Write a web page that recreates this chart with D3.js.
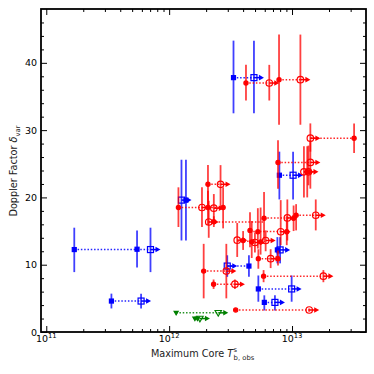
<!DOCTYPE html>
<html>
<head>
<meta charset="utf-8">
<script src="https://cdn.jsdelivr.net/npm/d3@7"></script>
<style>
  html, body { margin: 0; padding: 0; background: #fff; }
  svg { display: block; font-family: "DejaVu Sans", sans-serif; }
</style>
</head>
<body>
<div id="chart"></div>
<script>
// Data: [Tb, delta, deltaLo, deltaHi]
const blueFilled = [
  [1.69e11, 12.25, 8.9, 15.5], [5.48e11, 12.3, 9.6, 15.1], [3.39e11, 4.6, 3.5, 5.7],
  [3.34e12, 37.8, 32.5, 43.3], [1.37e12, 19.6, 13.6, 25.6], [7.89e12, 23.3, 19.7, 26.8],
  [7.6e12, 12.2, 10.2, 14.1], [4.46e12, 9.8, 8.2, 11.4], [5.32e12, 6.4, 4.5, 8.4],
  [5.95e12, 4.4, 3.2, 5.45]
];
const blueOpen = [
  [7.05e11, 12.25, 8.9, 15.5], [5.91e11, 4.6, 3.5, 5.7], [4.9e12, 37.8, 32.5, 43.3],
  [1.26e12, 19.6, 13.6, 25.6], [1.02e13, 23.3, 19.7, 26.8], [8.0e12, 12.2, 10.2, 14.1],
  [2.97e12, 9.8, 8.2, 11.4], [9.93e12, 6.4, 4.5, 8.4], [7.26e12, 4.4, 3.2, 5.45]
];
// dotted links: [Tb from, Tb to, delta]
const blueLinks = [
  [1.69e11, 7.05e11, 12.25], [3.39e11, 5.91e11, 4.6], [3.34e12, 4.9e12, 37.8],
  [2.97e12, 4.46e12, 9.8], [5.32e12, 9.93e12, 6.4], [5.95e12, 7.26e12, 4.4],
  [7.89e12, 1.02e13, 23.3], [7.6e12, 8.0e12, 12.2]
];

const redFilled = [
  [4.22e12, 37.0, 34.4, 39.7], [7.84e12, 37.5, 30.8, 44.2], [3.2e13, 28.8, 26.6, 31.0],
  [7.69e12, 25.2, 21.3, 28.5], [1.33e13, 23.8, 20.0, 27.6], [2.07e12, 21.95, 18.3, 24.8],
  [1.19e12, 18.5, 15.6, 21.5], [2.07e12, 18.5, 15.9, 21.0], [2.75e12, 18.5, 15.4, 21.5],
  [2.31e12, 16.4, 15.6, 17.2], [5.92e12, 16.9, 13.6, 20.8], [1.03e13, 16.9, 15.0, 18.8],
  [1.08e13, 17.35, 15.1, 19.0], [4.55e12, 15.1, 12.6, 17.8], [5.27e12, 14.9, 12.4, 18.4],
  [9.06e12, 14.9, 12.9, 17.2], [4.0e12, 13.6, 12.2, 15.0], [4.7e12, 13.4, 11.0, 16.5],
  [5.55e12, 13.4, 11.5, 18.5], [5.32e12, 10.9, 9.4, 12.3], [7.69e12, 10.9, 9.9, 12.1],
  [1.91e12, 9.05, 5.0, 13.1], [2.3e12, 7.1, 6.4, 7.8], [5.87e12, 8.3, 7.4, 9.2],
  [3.48e12, 3.27, 3.27, 3.27]
];
const redOpen = [
  [6.53e12, 37.0, 34.4, 39.7], [1.17e13, 37.5, 30.8, 44.2], [1.41e13, 28.8, 26.8, 31.0],
  [1.41e13, 25.2, 21.3, 28.5], [1.25e13, 23.8, 20.0, 27.6], [1.36e13, 23.8, 21.8, 27.7],
  [2.62e12, 21.95, 18.3, 24.8], [1.85e12, 18.5, 15.6, 21.5], [2.31e12, 18.4, 16.5, 20.5],
  [2.1e12, 16.35, 14.0, 19.5], [9.16e12, 16.95, 13.6, 19.7], [1.56e13, 17.35, 15.1, 19.7],
  [8.09e12, 14.9, 12.9, 19.6], [3.58e12, 13.65, 11.15, 16.2], [4.99e12, 13.3, 11.8, 14.8],
  [6.1e12, 13.6, 12.0, 15.1], [6.7e12, 10.9, 9.5, 12.3], [2.92e12, 9.05, 5.0, 13.1],
  [3.43e12, 7.1, 6.4, 7.8], [1.8e13, 8.3, 7.4, 9.2], [1.38e13, 3.27, 3.0, 3.5]
];
const redLinks = [
  [4.22e12, 6.53e12, 37.0], [7.84e12, 1.17e13, 37.5], [1.41e13, 3.2e13, 28.8],
  [7.69e12, 1.41e13, 25.2], [1.25e13, 1.36e13, 23.8], [2.07e12, 2.62e12, 21.95],
  [1.19e12, 2.75e12, 18.5], [2.1e12, 5.92e12, 16.35], [5.92e12, 1.03e13, 16.95],
  [1.08e13, 1.56e13, 17.35], [4.55e12, 9.06e12, 14.95], [3.58e12, 6.1e12, 13.5],
  [5.32e12, 7.69e12, 10.9], [1.91e12, 2.92e12, 9.05], [2.3e12, 3.43e12, 7.1],
  [5.87e12, 1.8e13, 8.3], [3.48e12, 1.38e13, 3.27]
];

const greenFilled = [[1.14e12, 2.85, 2.85, 2.85], [1.62e12, 2.0, 2.0, 2.0], [1.7e12, 2.0, 2.0, 2.0]];
const greenOpen = [[2.51e12, 2.85, 2.85, 2.85], [1.78e12, 2.0, 2.0, 2.0]];
const greenLinks = [[1.14e12, 2.51e12, 2.85], [1.62e12, 1.78e12, 2.0]];

const xMajor = [1e11, 1e12, 1e13];
const xExp = ["11", "12", "13"];
const yMajor = [0, 10, 20, 30, 40];

const W = 374, H = 374;
const plot = { left: 41, top: 9, right: 366, bottom: 332 };

const svg = d3.select("#chart").append("svg")
    .attr("width", W).attr("height", H);

const x = d3.scaleLog().domain([9.06e10, 4.0e13]).range([plot.left, plot.right]);
const y = d3.scaleLinear().domain([0, 48]).range([plot.bottom, plot.top]);

// Minor tick values
const xMinor = [];
[1e10, 1e11, 1e12, 1e13].forEach(d => {
    for (let k = 2; k <= 9; k++) {
        const v = d * k;
        if (v > x.domain()[0] && v < x.domain()[1]) xMinor.push(v);
    }
});
const yMinor = d3.range(0, 48, 2).filter(v => v % 10 !== 0);

function drawAxes() {
    const axes = svg.append("g").attr("class", "axes");
    const bottom = d3.axisBottom(x).tickValues(xMajor).tickSize(-6).tickFormat("");
    const bottomMinor = d3.axisBottom(x).tickValues(xMinor).tickSize(-3).tickFormat("");
    const top = d3.axisTop(x).tickValues(xMajor).tickSize(-6).tickFormat("");
    const topMinor = d3.axisTop(x).tickValues(xMinor).tickSize(-3).tickFormat("");
    const left = d3.axisLeft(y).tickValues(yMajor).tickSize(-6).tickPadding(4).tickFormat(d3.format("d"));
    const leftMinor = d3.axisLeft(y).tickValues(yMinor).tickSize(-3).tickFormat("");
    const right = d3.axisRight(y).tickValues(yMajor).tickSize(-6).tickFormat("");
    const rightMinor = d3.axisRight(y).tickValues(yMinor).tickSize(-3).tickFormat("");

    const place = (gen, tx, ty) => axes.append("g")
        .attr("transform", `translate(${tx},${ty})`).call(gen);
    [
        place(bottom, 0, plot.bottom), place(bottomMinor, 0, plot.bottom),
        place(top, 0, plot.top), place(topMinor, 0, plot.top),
        place(left, plot.left, 0), place(leftMinor, plot.left, 0),
        place(right, plot.right, 0), place(rightMinor, plot.right, 0)
    ].forEach(g => {
        g.select(".domain").remove();
        g.selectAll(".tick line").attr("stroke", "#000").attr("stroke-width", 1);
        g.selectAll("text").attr("font-size", 9.5).attr("fill", "#000")
            .attr("font-family", "DejaVu Sans, sans-serif");
    });

    // log labels with superscripts
    xMajor.forEach((v, i) => {
        const t = axes.append("text")
            .attr("x", x(v)).attr("y", 342)
            .attr("text-anchor", "middle")
            .attr("font-size", 9.5).attr("fill", "#000");
        t.append("tspan").text("10");
        t.append("tspan").attr("font-size", 6.8).attr("dy", -4).text(xExp[i]);
    });

    svg.append("rect")
        .attr("x", plot.left).attr("y", plot.top)
        .attr("width", plot.right - plot.left).attr("height", plot.bottom - plot.top)
        .attr("fill", "none").attr("stroke", "#000").attr("stroke-width", 1.8);
}

function drawLabels() {
    // x label
    const xl = svg.append("text")
        .attr("y", 357).attr("font-size", 9.7).attr("fill", "#222");
    xl.append("tspan").text("Maximum Core ");
    xl.append("tspan").attr("font-style", "italic").text("T");
    const len = xl.node().getComputedTextLength();
    const startX = 203 - (len + 22) / 2;
    xl.attr("x", startX);
    svg.append("text").attr("x", startX + len + 0.5).attr("y", 352)
        .attr("font-size", 6.8).attr("fill", "#222").text("s");
    svg.append("text").attr("x", startX + len + 0.5).attr("y", 360)
        .attr("font-size", 6.8).attr("fill", "#222").text("b, obs");

    // y label
    const yl = svg.append("text")
        .attr("transform", "translate(17,171) rotate(-90)")
        .attr("text-anchor", "middle")
        .attr("font-size", 9.7).attr("fill", "#222");
    yl.append("tspan").text("Doppler Factor ");
    yl.append("tspan").attr("font-style", "italic").text("δ");
    yl.append("tspan").attr("font-size", 6.8).attr("dy", 2.5).text("var");
}

const groups = [
    { color: "#0000ff", shape: "square", filled: blueFilled, open: blueOpen, links: blueLinks },
    { color: "#ff0000", shape: "circle", filled: redFilled, open: redOpen, links: redLinks },
    { color: "#008000", shape: "triangle", filled: greenFilled, open: greenOpen, links: greenLinks }
];

function marker(g, shape, cx, cy, size, fill, color) {
    if (shape === "circle") {
        g.append("circle").attr("cx", cx).attr("cy", cy).attr("r", size / 2)
            .attr("fill", fill).attr("stroke", color).attr("stroke-width", 1.2);
    } else if (shape === "square") {
        g.append("rect").attr("x", cx - size / 2).attr("y", cy - size / 2)
            .attr("width", size).attr("height", size)
            .attr("fill", fill).attr("stroke", color).attr("stroke-width", 1.2);
    } else {
        const s = size / 2;
        g.append("path").attr("d", `M${cx - s},${cy - s * 0.7}L${cx + s},${cy - s * 0.7}L${cx},${cy + s}Z`)
            .attr("fill", fill).attr("stroke", color).attr("stroke-width", 1.1);
    }
}

function drawGroup(grp) {
    const g = svg.append("g").attr("class", "series");
    const c = grp.color;

    g.selectAll("line.link").data(grp.links).join("line")
        .attr("class", "link")
        .attr("x1", d => x(d[0])).attr("x2", d => x(d[1]))
        .attr("y1", d => y(d[2])).attr("y2", d => y(d[2]))
        .attr("stroke", c).attr("stroke-width", 1.5)
        .attr("stroke-dasharray", "1.5,1.8").attr("opacity", 0.85);

    const errs = grp.filled.concat(grp.open).filter(d => d[3] > d[2]);
    g.selectAll("line.err").data(errs).join("line")
        .attr("class", "err")
        .attr("x1", d => x(d[0])).attr("x2", d => x(d[0]))
        .attr("y1", d => y(d[2])).attr("y2", d => y(d[3]))
        .attr("stroke", c).attr("stroke-width", 1.8).attr("opacity", 0.75);

    // lower-limit arrows from the open markers
    grp.open.forEach(d => {
        const px = x(d[0]), py = y(d[1]);
        g.append("line").attr("x1", px).attr("x2", px + 6).attr("y1", py).attr("y2", py)
            .attr("stroke", c).attr("stroke-width", 1.5);
        g.append("path").attr("d", `M${px + 5},${py - 2.8}L${px + 10},${py}L${px + 5},${py + 2.8}Z`)
            .attr("fill", c);
    });

    grp.filled.forEach(d => marker(g, grp.shape, x(d[0]), y(d[1]), grp.shape === "square" ? 4 : 4.2, c, c));
    grp.open.forEach(d => marker(g, grp.shape, x(d[0]), y(d[1]), grp.shape === "square" ? 6 : 6.5, "none", c));
}

drawAxes();
groups.forEach(drawGroup);
drawLabels();
</script>
</body>
</html>
